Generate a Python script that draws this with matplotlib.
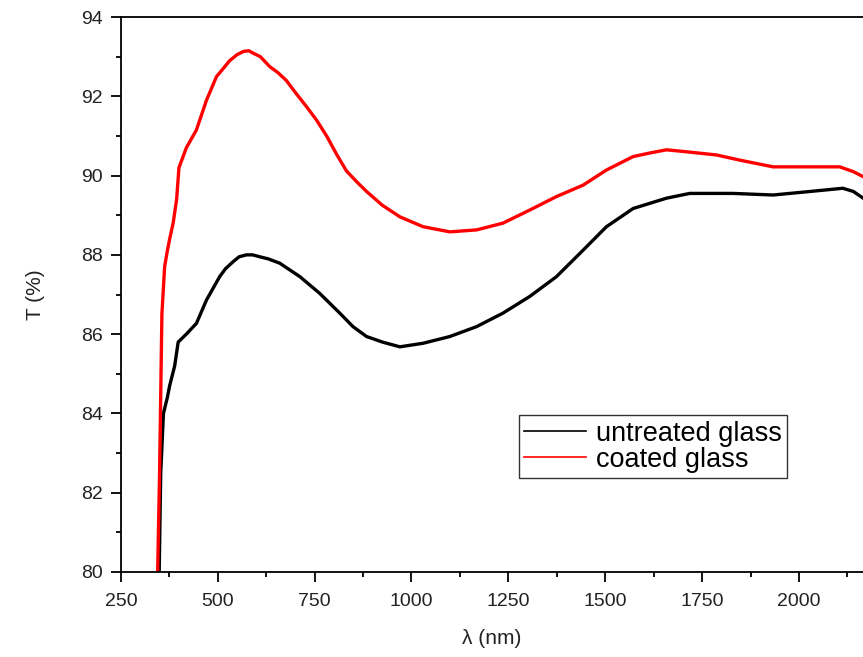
import matplotlib
matplotlib.use("Agg")
import matplotlib.pyplot as plt
from matplotlib.ticker import MultipleLocator

plt.rcParams['font.family'] = ['Liberation Sans', 'DejaVu Sans']

# Coated glass (red)
wl_coated = [345, 350, 353, 356, 363, 370, 376, 385, 394, 400, 419, 445, 471, 497,
             510, 531, 550, 566, 580, 591, 610, 634, 655, 677, 700, 729, 755, 781,
             806, 832, 858, 884, 925, 970, 1030, 1099, 1168, 1236, 1305, 1374,
             1443, 1503, 1572, 1620, 1658, 1710, 1787, 1847, 1933, 2019, 2105,
             2140, 2170]
T_coated = [80.0, 82.5, 84.5, 86.5, 87.7, 88.1, 88.4, 88.8, 89.4, 90.2, 90.7, 91.15,
            91.9, 92.5, 92.65, 92.9, 93.05, 93.13, 93.15, 93.09, 93.0, 92.75, 92.6,
            92.4, 92.1, 91.74, 91.4, 91.0, 90.55, 90.12, 89.85, 89.6, 89.25, 88.96,
            88.71, 88.58, 88.63, 88.8, 89.13, 89.47, 89.76, 90.14, 90.48, 90.58,
            90.65, 90.6, 90.52, 90.39, 90.22, 90.22, 90.22, 90.1, 89.95]

# Untreated glass (black)
wl_untreated = [349, 353, 360, 370, 376, 389, 398, 419, 445, 471, 505, 520, 540, 555,
                574, 590, 609, 630, 660, 712, 763, 815, 849, 884, 925, 970, 1030,
                1099, 1168, 1236, 1305, 1374, 1443, 1503, 1572, 1658, 1718, 1830,
                1933, 2019, 2113, 2140, 2170]
T_untreated = [80.0, 82.5, 84.0, 84.4, 84.7, 85.2, 85.8, 86.0, 86.27, 86.86, 87.45,
               87.65, 87.83, 87.95, 88.0, 88.0, 87.95, 87.9, 87.79, 87.45, 87.03,
               86.53, 86.19, 85.94, 85.8, 85.68, 85.77, 85.94, 86.19, 86.53, 86.95,
               87.45, 88.12, 88.71, 89.17, 89.43, 89.55, 89.55, 89.51, 89.59, 89.68,
               89.6, 89.4]

labels = ["untreated glass", "coated glass"]

fig = plt.figure(figsize=(8.63, 6.57), dpi=100)
ax = fig.add_axes([0.14, 0.1294, 0.86, 0.8447])

ax.plot(wl_untreated, T_untreated, color='black', lw=2.4, label=labels[0],
        solid_joinstyle='round')
ax.plot(wl_coated, T_coated, color='#ff0000', lw=2.4, label=labels[1],
        solid_joinstyle='round')

ax.set_xlim(250, 2165)
ax.set_ylim(80, 94)
ax.xaxis.set_major_locator(MultipleLocator(250))
ax.xaxis.set_minor_locator(MultipleLocator(125))
ax.yaxis.set_major_locator(MultipleLocator(2))
ax.yaxis.set_minor_locator(MultipleLocator(1))
ax.tick_params(which='major', direction='out', length=7, width=1.3,
               labelsize=14, labelcolor='#222222', top=False, right=False)
ax.tick_params(axis='x', which='major', pad=8)
ax.tick_params(axis='y', which='major', pad=6)
ax.tick_params(which='minor', direction='out', length=3.5, width=1.3,
               top=False, right=False)
ax.spines['right'].set_visible(False)
for s in ['left', 'bottom', 'top']:
    ax.spines[s].set_linewidth(1.3)

ax.set_xlabel("λ (nm)", fontsize=15, color='#222222', labelpad=14)
ax.set_ylabel("T (%)", fontsize=15, color='#222222', labelpad=26)

leg = ax.legend(loc='lower left', bbox_to_anchor=(0.536, 0.169), fontsize=19.5,
                frameon=True, fancybox=False, edgecolor='black', handlelength=2.3,
                handletextpad=0.35, borderpad=0.2, labelspacing=0.0, borderaxespad=0)
leg.get_frame().set_linewidth(1.0)
for l in leg.get_lines():
    l.set_linewidth(1.2)

fig.savefig("out.png", dpi=100)
